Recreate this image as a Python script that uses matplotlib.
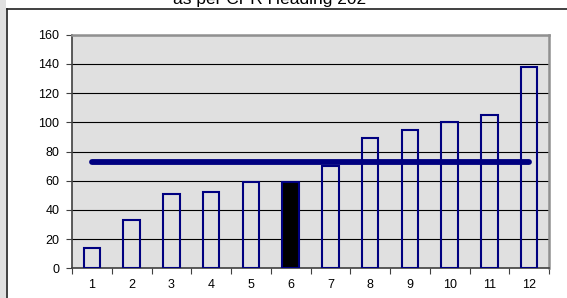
import matplotlib
matplotlib.use("Agg")
import matplotlib.pyplot as plt
from matplotlib.patches import Rectangle
from matplotlib.lines import Line2D

plt.rcParams['font.family'] = ['Liberation Sans', 'DejaVu Sans']

categories = ['1', '2', '3', '4', '5', '6', '7', '8', '9', '10', '11', '12']
values = [14, 33, 51, 52, 59, 59, 70, 89, 95, 100, 105, 138]
highlight = '6'
average = 73
title = "as per CPR Heading 202"
yticks = [0, 20, 40, 60, 80, 100, 120, 140, 160]

W, H = 567, 298
fig = plt.figure(figsize=(W / 100, H / 100), dpi=100, facecolor='white')

# outer gray strip and chart frame
fig.patches.append(Rectangle((0, 0), 6 / W, 1, transform=fig.transFigure,
                             facecolor='#e0e0e0', edgecolor='none', zorder=0))
fig.lines.append(Line2D([6.5 / W, 6.5 / W], [0, 1 - 8.5 / H], transform=fig.transFigure,
                        color='#202020', lw=1.2))
fig.lines.append(Line2D([6.5 / W, 1], [1 - 8.5 / H, 1 - 8.5 / H], transform=fig.transFigure,
                        color='#202020', lw=1.2))

fig.text(270 / W, 1 - 4 / H, title, ha='center', va='baseline', fontsize=12.5, color='black')

ax = fig.add_axes([72 / W, 1 - 268.3 / H, (549 - 72) / W, (268.3 - 34.7) / H])
ax.set_facecolor('#e0e0e0')

x = list(range(1, len(categories) + 1))
for xi, cat, v in zip(x, categories, values):
    fc = 'black' if cat == highlight else 'none'
    ax.bar(xi, v, width=0.42, facecolor=fc, edgecolor='#000080', linewidth=1.5, zorder=3)

ax.plot([x[0], x[-1]], [average, average], color='#000080', lw=4.2,
        solid_capstyle='round', zorder=4)

ax.set_xlim(0.5, len(categories) + 0.5)
ax.set_ylim(0, 160)
ax.set_yticks(yticks)
ax.set_yticklabels([str(t) for t in yticks], fontsize=9)
ax.yaxis.grid(True, color='black', lw=0.8, zorder=1)
ax.set_axisbelow(True)

ax.set_xticks([i + 0.5 for i in range(0, len(categories) + 1)])
ax.set_xticklabels([])
ax.set_xticks(x, minor=True)
ax.set_xticklabels(categories, minor=True, fontsize=9)
ax.tick_params(axis='x', which='major', length=4, width=0.8, color='#404040', direction='out')
ax.tick_params(axis='x', which='minor', length=0, pad=8)
ax.tick_params(axis='y', length=4, width=0.8, color='#404040', direction='out', pad=5)

for s in ['left', 'bottom']:
    ax.spines[s].set_color('#404040')
    ax.spines[s].set_linewidth(1.2)
for s in ['top', 'right']:
    ax.spines[s].set_color('#909090')
    ax.spines[s].set_linewidth(1.8)

fig.savefig('out.png', dpi=100, facecolor=fig.get_facecolor())
